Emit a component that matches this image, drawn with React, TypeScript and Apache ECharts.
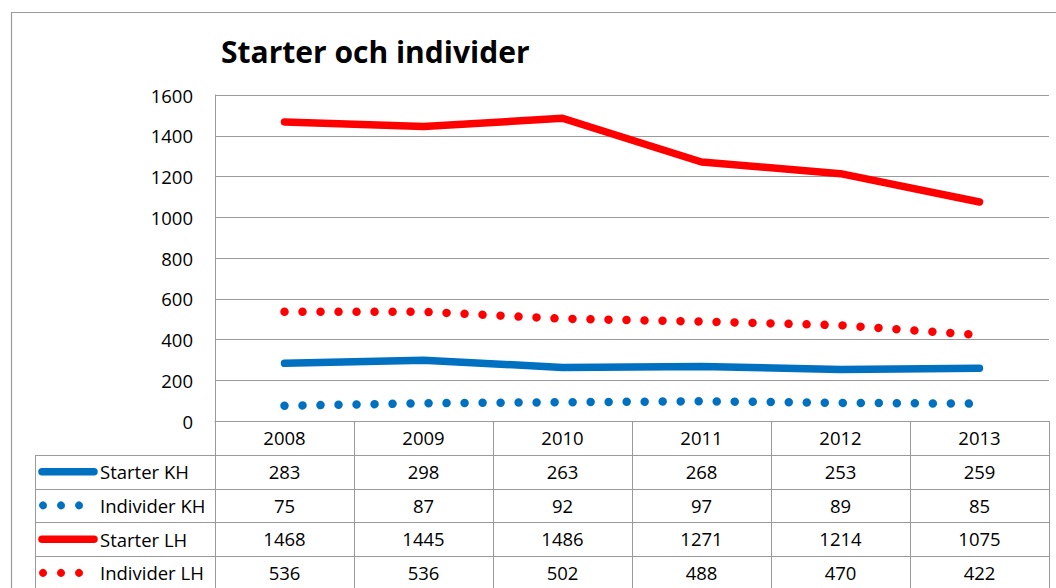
import React, { useEffect, useRef } from "react";
import * as echarts from "echarts";

const years = ["2008", "2009", "2010", "2011", "2012", "2013"];
const starterKH = [283, 298, 263, 268, 253, 259];
const individerKH = [75, 87, 92, 97, 89, 85];
const starterLH = [1468, 1445, 1486, 1271, 1214, 1075];
const individerLH = [536, 536, 502, 488, 470, 422];
const seriesNames = ["Starter KH", "Individer KH", "Starter LH", "Individer LH"];
const seriesValues = [starterKH, individerKH, starterLH, individerLH];
const seriesColors = ["#0070C0", "#0070C0", "#FF0000", "#FF0000"];
const seriesDotted = [false, true, false, true];
const yMin = 0;
const yMax = 1600;
const yStep = 200;
const titleText = "Starter och individer";

const FONT = "'Open Sans', sans-serif";
const W = 1056;
const H = 588;
const GRID_LEFT = 215;
const GRID_RIGHT = 1049;
const GRID_TOP = 95;
const AXIS_Y = 421;
const ROW_H = 33.75;
const LEGEND_LEFT = 35;
const GRAY = "#9a9a9a";

export default function App() {
  const ref = useRef<HTMLDivElement>(null);
  useEffect(() => {
    document.body.style.margin = "0";
    if (!ref.current) return;
    const chart = echarts.init(ref.current, undefined, { renderer: "svg" });

    const labelStyle = {
      fontFamily: FONT,
      fontSize: 18.5,
      color: "#000",
      margin: 16.5,
      verticalAlign: "middle",
      interval: 0,
    };

    const xAxes: any[] = [
      {
        type: "category",
        data: years,
        position: "bottom",
        boundaryGap: true,
        axisLine: { show: true, lineStyle: { color: GRAY, width: 1 } },
        axisTick: { show: true, length: 170, interval: 0, lineStyle: { color: GRAY, width: 1 } },
        axisLabel: { ...labelStyle },
        splitLine: { show: false },
      },
      ...seriesValues.map((row, i) => ({
        type: "category",
        data: years,
        position: "bottom",
        offset: ROW_H * (i + 1),
        axisLine: { show: false },
        axisTick: { show: false },
        axisLabel: {
          ...labelStyle,
          formatter: (_v: string, idx: number) => String(row[idx]),
        },
        splitLine: { show: false },
      })),
    ];

    const graphics: any[] = [
      {
        type: "rect",
        silent: true,
        shape: { x: 11.5, y: 12.5, width: 1200, height: 800 },
        style: { fill: "none", stroke: GRAY, lineWidth: 1.2 },
      },
      {
        type: "line",
        silent: true,
        shape: { x1: LEGEND_LEFT + 0.5, y1: Math.round(AXIS_Y + ROW_H) + 0.5, x2: LEGEND_LEFT + 0.5, y2: H + 5 },
        style: { stroke: GRAY, lineWidth: 1 },
      },
    ];
    for (let k = 1; k <= 4; k++) {
      const y = Math.round(AXIS_Y + ROW_H * k) + 0.5;
      graphics.push({
        type: "line",
        silent: true,
        shape: { x1: LEGEND_LEFT, y1: y, x2: GRID_RIGHT, y2: y },
        style: { stroke: GRAY, lineWidth: 1 },
      });
    }
    seriesNames.forEach((name, i) => {
      const cy = AXIS_Y + ROW_H * (i + 1) + ROW_H / 2;
      if (seriesDotted[i]) {
        [43, 61, 79].forEach((cx) =>
          graphics.push({
            type: "circle",
            silent: true,
            shape: { cx, cy, r: 4 },
            style: { fill: seriesColors[i] },
          })
        );
      } else {
        graphics.push({
          type: "line",
          silent: true,
          shape: { x1: 42, y1: cy, x2: 94, y2: cy },
          style: { stroke: seriesColors[i], lineWidth: 7.5, lineCap: "round" },
        });
      }
      graphics.push({
        type: "text",
        silent: true,
        x: 100,
        y: cy,
        style: {
          text: name,
          fontFamily: FONT,
          fontSize: 18.5,
          fill: "#000",
          verticalAlign: "middle",
          align: "left",
        },
      });
    });

    chart.setOption({
      animation: false,
      backgroundColor: "#fff",
      title: {
        text: titleText,
        left: 216,
        top: 31,
        textStyle: { fontFamily: FONT, fontSize: 30, fontWeight: "bold", color: "#000" },
      },
      grid: {
        left: GRID_LEFT,
        right: W - GRID_RIGHT,
        top: GRID_TOP,
        bottom: H - AXIS_Y,
        containLabel: false,
      },
      xAxis: xAxes,
      yAxis: {
        type: "value",
        min: yMin,
        max: yMax,
        interval: yStep,
        axisLine: { show: true, lineStyle: { color: GRAY, width: 1 } },
        axisTick: { show: false },
        splitLine: { show: true, lineStyle: { color: GRAY, width: 1 } },
        axisLabel: {
          fontFamily: FONT,
          fontSize: 18.5,
          color: "#000",
          margin: 22,
          formatter: (v: number) => String(v),
        },
      },
      series: seriesNames.map((name, i) => ({
        name,
        type: "line",
        xAxisIndex: 0,
        data: seriesValues[i],
        symbol: "none",
        smooth: false,
        lineStyle: seriesDotted[i]
          ? { color: seriesColors[i], width: 8.5, type: [0.01, 18], cap: "round" }
          : { color: seriesColors[i], width: 7.5, cap: "round", join: "round" },
        itemStyle: { color: seriesColors[i] },
      })),
      graphic: graphics,
    });
    return () => chart.dispose();
  }, []);
  return <div ref={ref} style={{ width: W, height: H }} />;
}
